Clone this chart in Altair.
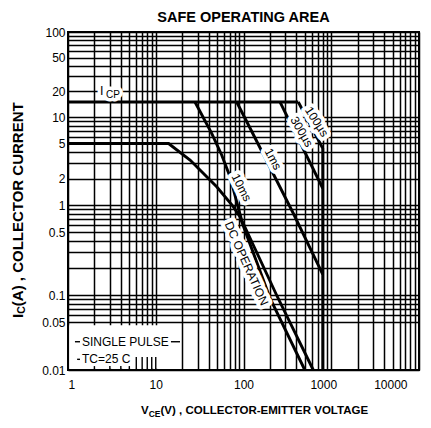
import altair as alt
import pandas as pd

# ---------------- data ----------------
x_ticks = [1, 10, 100, 1000, 10000]
y_ticks = [0.01, 0.05, 0.1, 0.5, 1, 2, 5, 10, 20, 50, 100]
y_grid_skip = [0.02, 0.03, 0.04]

icp_v = [1, 421]
icp_i = [15, 15]
dc_v = [1, 14, 24.6, 49.5, 76.5, 91, 200, 500]
dc_i = [5, 5, 3.24, 1.61, 0.96, 0.74, 0.093, 0.01]
ms10_v = [28, 43.4, 56.4, 70.2, 86.5, 95.3, 238, 624]
ms10_i = [15, 6.53, 3.7, 2.1, 0.96, 0.68, 0.1, 0.01]
ms1_v = [83.6, 118.6, 369, 800]
ms1_i = [15, 7.5, 0.81, 0.17]
us300_v = [261, 800]
us300_i = [15, 1.55]
us100_v = [421, 800, 800]
us100_i = [15, 4.4, 0.01]

curve_text = ["10ms", "1ms", "300µs", "100µs", "DC OPERATION"]
curve_text_v = [94.9, 217, 460, 683, 108]
curve_text_i = [1.58, 3.33, 6.81, 8.85, 0.224]

note_text = ["SINGLE PULSE", "TC=25 C"]
note_v = [1.444, 1.444]
note_i = [0.0258, 0.0143]

icp_main = ["I"]
icp_main_v = [2.42]
icp_main_i = [18.2]
icp_sub = ["CP"]
icp_sub_v = [2.71]
icp_sub_i = [16.9]

# leader dashes of the notes (start, end, level)
lead_v = [1.2, 14.9, 1.27]
lead_v2 = [1.37, 18.9, 1.37]
lead_i = [0.0258, 0.0258, 0.0143]

# ---------------- styling ----------------
FONT = "Liberation Sans"
curve_text_angle = [63, 62, 60, 57, 66]

x_grid = [d * 10 ** k for k in range(4) for d in range(1, 10)] + [10000]
y_grid = [round(d * 10.0 ** k, 6) for k in range(-2, 2) for d in range(1, 10)] + [100]
y_grid = [v for v in y_grid if v not in y_grid_skip]


def show_expr(vals):
    return "indexof([" + ",".join(repr(v) for v in vals) + "], datum.value) >= 0 ? datum.label : ''"


x_scale = alt.Scale(type="log", domain=[1, 10000], nice=False)
y_scale = alt.Scale(type="log", domain=[0.01, 0.05, 0.1, 1, 10, 100],
                    range=[338, 290, 263, 173, 85, 0], nice=False)

x_axis = alt.Axis(values=x_grid, labelExpr=show_expr(x_ticks), format="~g", grid=True,
                  gridColor="#000", gridWidth=1.5, ticks=False, domain=False,
                  labelFont=FONT, labelFontSize=12, labelColor="#000", labelPadding=9,
                  labelOverlap=False,
                  labelOffset={"condition": [{"test": "datum.value == 1000", "value": -8},
                                             {"test": "datum.value == 10000", "value": -12}],
                               "value": 0},
                  title=None)
y_axis = alt.Axis(values=y_grid, labelExpr=show_expr(y_ticks), format="~g", grid=True,
                  gridColor="#000", gridWidth=1.5, ticks=False, domain=False,
                  labelFont=FONT, labelFontSize=12, labelColor="#000", labelPadding=3,
                  labelOverlap=False, title=None)

X = alt.X("v:Q", scale=x_scale, axis=x_axis)
Y = alt.Y("i:Q", scale=y_scale, axis=y_axis)

rows = []
for name, vs, cs in [("ICP", icp_v, icp_i), ("DC", dc_v, dc_i), ("10ms", ms10_v, ms10_i),
                     ("1ms", ms1_v, ms1_i), ("300us", us300_v, us300_i), ("100us", us100_v, us100_i)]:
    for k, (v, c) in enumerate(zip(vs, cs)):
        rows.append({"s": name, "k": k, "v": v, "i": c})
curves = pd.DataFrame(rows)

# white area behind the notes (covers the grid there)
box = pd.DataFrame({"v": [1.035], "v2": [18.5], "i": [0.0104], "i2": [0.045]})
leaders = pd.DataFrame({"v": lead_v, "v2": lead_v2, "i": lead_i})
stubs = pd.DataFrame({"v": [2, 3, 4, 5, 6, 7, 8, 9, 10],
                      "i": [0.01] * 9, "i2": [0.0114] * 4 + [0.0155] * 5})
frame = pd.DataFrame({"v": [1], "v2": [10000], "i": [0.01], "i2": [100]})

layers = []
layers.append(alt.Chart(box).mark_rect(color="white").encode(x=X, x2="v2:Q", y=Y, y2="i2:Q"))
layers.append(alt.Chart(leaders).mark_rule(color="black", strokeWidth=1.4).encode(x=X, x2="v2:Q", y=Y))
layers.append(alt.Chart(stubs).mark_rule(color="black", strokeWidth=1.4).encode(x=X, y=Y, y2="i2:Q"))
layers.append(alt.Chart(curves).mark_line(color="black", strokeWidth=2.9).encode(
    x=X, y=Y, detail="s:N", order="k:Q"))

# rotated curve labels with white halo
for t, v, c, a in zip(curve_text, curve_text_v, curve_text_i, curve_text_angle):
    df = pd.DataFrame({"t": [t], "v": [v], "i": [c]})
    layers.append(alt.Chart(df).mark_text(font=FONT, fontSize=12, angle=a, align="center",
                                          baseline="middle", fill="white", stroke="white",
                                          strokeWidth=8, strokeJoin="round").encode(x=X, y=Y, text="t:N"))
    layers.append(alt.Chart(df).mark_text(font=FONT, fontSize=12, angle=a, align="center",
                                          baseline="middle", color="black").encode(x=X, y=Y, text="t:N"))

notes = pd.DataFrame({"t": note_text, "v": note_v, "i": note_i})
layers.append(alt.Chart(notes).mark_text(font=FONT, fontSize=12, align="left", baseline="middle",
                                         color="black").encode(x=X, y=Y, text="t:N"))

icp1 = pd.DataFrame({"t": icp_main, "v": icp_main_v, "i": icp_main_i})
icp2 = pd.DataFrame({"t": icp_sub, "v": icp_sub_v, "i": icp_sub_i})
for df, fs, al in [(icp1, 12.5, "center"), (icp2, 10, "left")]:
    layers.append(alt.Chart(df).mark_text(font=FONT, fontSize=fs, align=al, baseline="alphabetic",
                                          fill="white", stroke="white", strokeWidth=7,
                                          strokeJoin="round").encode(x=X, y=Y, text="t:N"))
for df, fs, al in [(icp1, 12.5, "center"), (icp2, 10, "left")]:
    layers.append(alt.Chart(df).mark_text(font=FONT, fontSize=fs, align=al, baseline="alphabetic",
                                          color="black").encode(x=X, y=Y, text="t:N"))

layers.append(alt.Chart(frame).mark_rect(fillOpacity=0, stroke="black", strokeWidth=2).encode(
    x=X, x2="v2:Q", y=Y, y2="i2:Q"))

# axis titles with subscripts
xt = pd.DataFrame({"t": ["V", "CE", "(V) , COLLECTOR-EMITTER VOLTAGE"],
                   "px": [73, 80.7, 92.5], "py": [382, 385, 382], "fs": [11.5, 8.5, 11.5]})
for _, r in xt.iterrows():
    layers.append(alt.Chart(pd.DataFrame({"t": [r.t]})).mark_text(
        font=FONT, fontSize=float(r.fs), fontWeight="bold", align="left", baseline="alphabetic",
        color="black").encode(x=alt.value(float(r.px)), y=alt.value(float(r.py)), text="t:N"))

yt = pd.DataFrame({"t": ["I", "C", "(A) , COLLECTOR CURRENT"],
                   "px": [-50, -46.5, -50], "py": [286, 281.8, 274.2], "fs": [15, 10.5, 15]})
for _, r in yt.iterrows():
    layers.append(alt.Chart(pd.DataFrame({"t": [r.t]})).mark_text(
        font=FONT, fontSize=float(r.fs), fontWeight="bold", align="left", baseline="middle",
        angle=270, color="black").encode(x=alt.value(float(r.px)), y=alt.value(float(r.py)), text="t:N"))

chart = alt.layer(*layers).properties(
    width=351, height=338,
    title=alt.TitleParams("SAFE OPERATING AREA", font=FONT, fontSize=14.5, fontWeight="bold",
                          anchor="middle", color="black", offset=1),
    autosize=alt.AutoSizeParams(type="none"),
    padding={"left": 60, "top": 24, "right": 4, "bottom": 50},
    background="white",
).configure_view(strokeWidth=0)

chart.save("out.html", embed_options={"renderer": "svg", "actions": False})
